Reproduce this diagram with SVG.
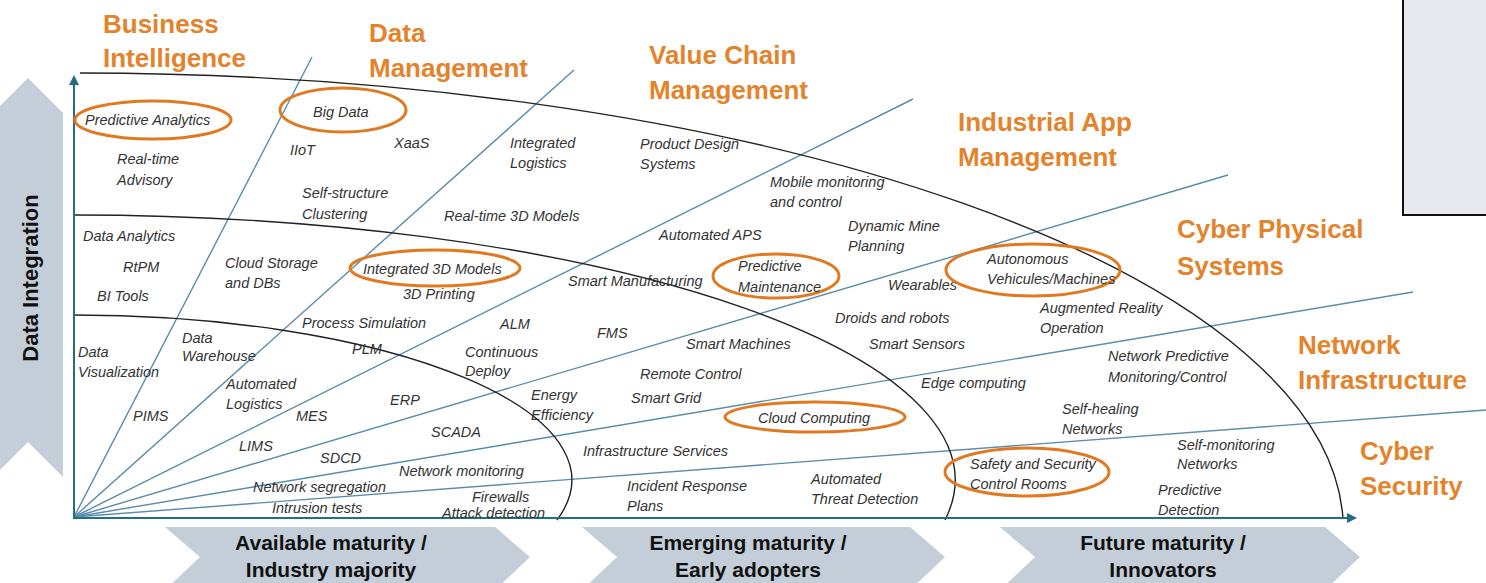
<svg xmlns="http://www.w3.org/2000/svg" width="1486" height="583" viewBox="0 0 1486 583">
<defs>
<style>
.lbl{font-family:"Liberation Sans",Arial,sans-serif;font-style:italic;font-size:14.5px;fill:#333}
.hd{font-family:"Liberation Sans",Arial,sans-serif;font-weight:bold;font-size:26px;fill:#e3832b}
.mat{font-family:"Liberation Sans",Arial,sans-serif;font-weight:bold;font-size:21px;fill:#111;text-anchor:middle}
.ray{stroke:#5a8cab;stroke-width:1.4;fill:none}
.arc{stroke:#222;stroke-width:1.4;fill:none}
.axis{stroke:#236e80;stroke-width:2;fill:none}
.ov{stroke:#e07a22;stroke-width:3;fill:none}
.chev{fill:#c4ced8}
</style>
<marker id="ah" viewBox="0 0 10 10" refX="5" refY="5" markerWidth="5" markerHeight="5" orient="auto">
<path d="M0,0 L10,5 L0,10 z" fill="#236e80"/>
</marker>
</defs>
<rect width="1486" height="583" fill="#fff"/>
<g id="backdrop">
<polygon class="chev" points="28,78 63,113 63,477 28,442 -7,477 -7,113"/>
<polygon class="chev" points="165,527 495,527 530,557 495,590 165,590 200,557"/>
<polygon class="chev" points="582,527 910,527 945,557 910,590 582,590 617,557"/>
<polygon class="chev" points="1000,527 1325,527 1360,557 1325,590 1000,590 1035,557"/>
<rect x="1403" y="-2" width="90" height="217" fill="#e8e9ee" stroke="#111" stroke-width="2"/>
</g>
<g id="connectors">
<line class="ray" x1="74" y1="517" x2="312" y2="57"/>
<line class="ray" x1="74" y1="517" x2="574" y2="70"/>
<line class="ray" x1="74" y1="517" x2="913" y2="99"/>
<line class="ray" x1="74" y1="517" x2="1228" y2="175"/>
<line class="ray" x1="74" y1="517" x2="1413" y2="292"/>
<line class="ray" x1="74" y1="517" x2="1486" y2="410"/>
<path class="arc" d="M80,73 A1265,457 0 0 1 1343,519"/>
<path class="arc" d="M74,215 A881,265 0 0 1 945,520"/>
<path class="arc" d="M74,315 A498,165 0 0 1 557,520"/>
<line class="axis" x1="74" y1="518" x2="74" y2="80" marker-end="url(#ah)"/>
<line class="axis" x1="73" y1="518" x2="1352" y2="518" marker-end="url(#ah)"/>
</g>
<g id="axis-labels">
<text class="mat" transform="translate(38,278) rotate(-90)" style="font-size:22px">Data Integration</text>
<text class="mat" x="331" y="550">Available maturity /</text>
<text class="mat" x="331" y="577">Industry majority</text>
<text class="mat" x="748" y="550">Emerging maturity /</text>
<text class="mat" x="748" y="577">Early adopters</text>
<text class="mat" x="1163" y="550">Future maturity /</text>
<text class="mat" x="1163" y="577">Innovators</text>
</g>
<g id="categories">
<g id="cat-bi"><text class="hd" x="103" y="33">Business</text><text class="hd" x="103" y="67">Intelligence</text></g>
<g id="cat-dm"><text class="hd" x="369" y="42">Data</text><text class="hd" x="369" y="77">Management</text></g>
<g id="cat-vcm"><text class="hd" x="649" y="64">Value Chain</text><text class="hd" x="649" y="99">Management</text></g>
<g id="cat-iam"><text class="hd" x="958" y="131">Industrial App</text><text class="hd" x="958" y="166">Management</text></g>
<g id="cat-cps"><text class="hd" x="1177" y="238">Cyber Physical</text><text class="hd" x="1177" y="275">Systems</text></g>
<g id="cat-ni"><text class="hd" x="1298" y="354">Network</text><text class="hd" x="1298" y="389">Infrastructure</text></g>
<g id="cat-cs"><text class="hd" x="1360" y="460">Cyber</text><text class="hd" x="1360" y="495">Security</text></g>
</g>
<g id="items">
<g id="n-predictive-analytics"><ellipse class="ov" cx="153" cy="120" rx="78" ry="19"/><text class="lbl" x="85" y="125">Predictive Analytics</text></g>
<g id="n-realtime-advisory"><text class="lbl" x="117" y="164">Real-time</text><text class="lbl" x="117" y="185">Advisory</text></g>
<g id="n-big-data"><ellipse class="ov" cx="343" cy="110" rx="63" ry="22"/><text class="lbl" x="313" y="117">Big Data</text></g>
<g id="n-iiot"><text class="lbl" x="290" y="155">IIoT</text></g>
<g id="n-xaas"><text class="lbl" x="394" y="148">XaaS</text></g>
<g id="n-self-structure"><text class="lbl" x="302" y="198">Self-structure</text><text class="lbl" x="302" y="219">Clustering</text></g>
<g id="n-integrated-logistics"><text class="lbl" x="510" y="148">Integrated</text><text class="lbl" x="510" y="168">Logistics</text></g>
<g id="n-product-design"><text class="lbl" x="640" y="149">Product Design</text><text class="lbl" x="640" y="169">Systems</text></g>
<g id="n-rt3d"><text class="lbl" x="444" y="221">Real-time 3D Models</text></g>
<g id="n-mobile"><text class="lbl" x="770" y="187">Mobile monitoring</text><text class="lbl" x="770" y="207">and control</text></g>
<g id="n-aps"><text class="lbl" x="659" y="240">Automated APS</text></g>
<g id="n-mine"><text class="lbl" x="848" y="231">Dynamic Mine</text><text class="lbl" x="848" y="251">Planning</text></g>
<g id="n-data-analytics"><text class="lbl" x="83" y="241">Data Analytics</text></g>
<g id="n-rtpm"><text class="lbl" x="123" y="272">RtPM</text></g>
<g id="n-bi-tools"><text class="lbl" x="97" y="301">BI Tools</text></g>
<g id="n-cloud-storage"><text class="lbl" x="225" y="268">Cloud Storage</text><text class="lbl" x="225" y="288">and DBs</text></g>
<g id="n-i3d"><ellipse class="ov" cx="435" cy="268" rx="85" ry="18"/><text class="lbl" x="363" y="274">Integrated 3D Models</text></g>
<g id="n-3dp"><text class="lbl" x="403" y="299">3D Printing</text></g>
<g id="n-smart-manu"><text class="lbl" x="568" y="286">Smart Manufacturing</text></g>
<g id="n-pred-maint"><ellipse class="ov" cx="776" cy="276" rx="63" ry="22"/><text class="lbl" x="738" y="271">Predictive</text><text class="lbl" x="738" y="292">Maintenance</text></g>
<g id="n-wearables"><text class="lbl" x="888" y="290">Wearables</text></g>
<g id="n-autonomous"><ellipse class="ov" cx="1033" cy="270" rx="87" ry="26"/><text class="lbl" x="987" y="264">Autonomous</text><text class="lbl" x="987" y="284">Vehicules/Machines</text></g>
<g id="n-ar"><text class="lbl" x="1040" y="313">Augmented Reality</text><text class="lbl" x="1040" y="333">Operation</text></g>
<g id="n-process-sim"><text class="lbl" x="302" y="328">Process Simulation</text></g>
<g id="n-alm"><text class="lbl" x="500" y="329">ALM</text></g>
<g id="n-fms"><text class="lbl" x="597" y="338">FMS</text></g>
<g id="n-droids"><text class="lbl" x="835" y="323">Droids and robots</text></g>
<g id="n-smart-sensors"><text class="lbl" x="869" y="349">Smart Sensors</text></g>
<g id="n-smart-machines"><text class="lbl" x="686" y="349">Smart Machines</text></g>
<g id="n-data-vis"><text class="lbl" x="78" y="357">Data</text><text class="lbl" x="78" y="377">Visualization</text></g>
<g id="n-data-wh"><text class="lbl" x="182" y="343">Data</text><text class="lbl" x="182" y="361">Warehouse</text></g>
<g id="n-plm"><text class="lbl" x="352" y="354">PLM</text></g>
<g id="n-cont-deploy"><text class="lbl" x="465" y="357">Continuous</text><text class="lbl" x="465" y="376">Deploy</text></g>
<g id="n-net-pred"><text class="lbl" x="1108" y="361">Network Predictive</text><text class="lbl" x="1108" y="382">Monitoring/Control</text></g>
<g id="n-auto-log"><text class="lbl" x="226" y="389">Automated</text><text class="lbl" x="226" y="409">Logistics</text></g>
<g id="n-remote"><text class="lbl" x="640" y="379">Remote Control</text></g>
<g id="n-edge"><text class="lbl" x="921" y="388">Edge computing</text></g>
<g id="n-pims"><text class="lbl" x="133" y="421">PIMS</text></g>
<g id="n-mes"><text class="lbl" x="296" y="421">MES</text></g>
<g id="n-erp"><text class="lbl" x="390" y="405">ERP</text></g>
<g id="n-energy"><text class="lbl" x="531" y="400">Energy</text><text class="lbl" x="531" y="420">Efficiency</text></g>
<g id="n-smart-grid"><text class="lbl" x="631" y="403">Smart Grid</text></g>
<g id="n-cloud"><ellipse class="ov" cx="815" cy="417" rx="90" ry="15"/><text class="lbl" x="758" y="423">Cloud Computing</text></g>
<g id="n-self-heal"><text class="lbl" x="1062" y="414">Self-healing</text><text class="lbl" x="1062" y="434">Networks</text></g>
<g id="n-scada"><text class="lbl" x="431" y="437">SCADA</text></g>
<g id="n-lims"><text class="lbl" x="239" y="451">LIMS</text></g>
<g id="n-infra"><text class="lbl" x="583" y="456">Infrastructure Services</text></g>
<g id="n-sdcd"><text class="lbl" x="320" y="463">SDCD</text></g>
<g id="n-self-mon"><text class="lbl" x="1177" y="450">Self-monitoring</text><text class="lbl" x="1177" y="469">Networks</text></g>
<g id="n-net-mon"><text class="lbl" x="399" y="476">Network monitoring</text></g>
<g id="n-safety"><ellipse class="ov" cx="1027" cy="472" rx="82" ry="24"/><text class="lbl" x="970" y="469">Safety and Security</text><text class="lbl" x="970" y="489">Control Rooms</text></g>
<g id="n-threat"><text class="lbl" x="811" y="484">Automated</text><text class="lbl" x="811" y="504">Threat Detection</text></g>
<g id="n-incident"><text class="lbl" x="627" y="491">Incident Response</text><text class="lbl" x="627" y="511">Plans</text></g>
<g id="n-net-seg"><text class="lbl" x="253" y="492">Network segregation</text></g>
<g id="n-firewalls"><text class="lbl" x="472" y="502">Firewalls</text><text class="lbl" x="442" y="518">Attack detection</text></g>
<g id="n-intrusion"><text class="lbl" x="272" y="513">Intrusion tests</text></g>
<g id="n-pred-det"><text class="lbl" x="1158" y="495">Predictive</text><text class="lbl" x="1158" y="515">Detection</text></g>
</g>
</svg>
